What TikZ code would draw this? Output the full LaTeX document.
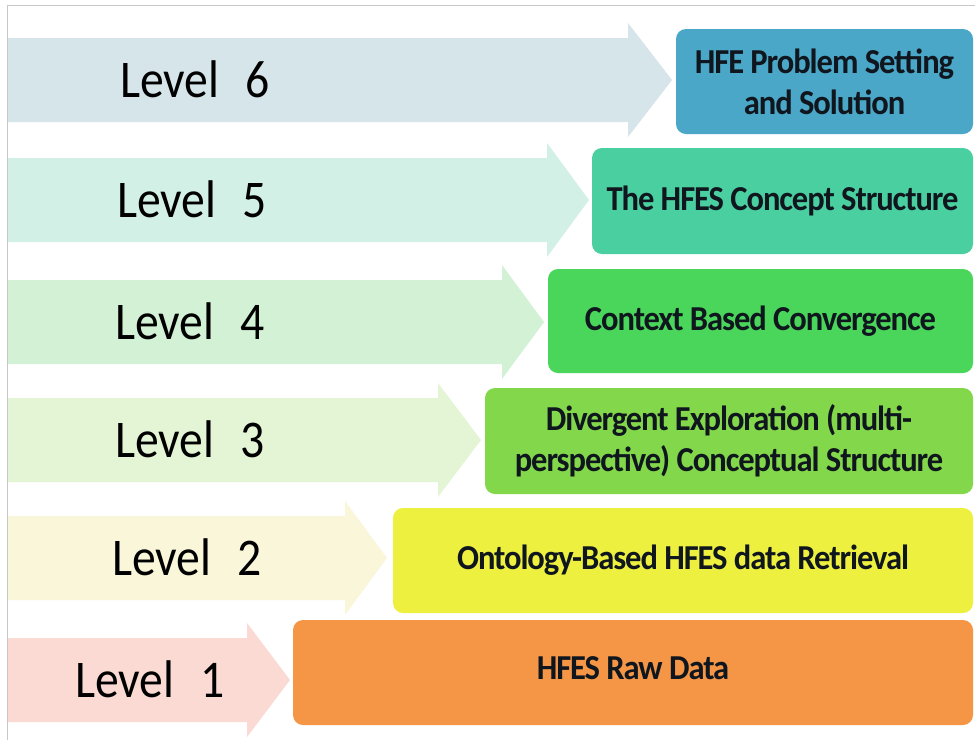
\documentclass[tikz,border=0pt]{standalone}
\usepackage{fontspec}
\setmainfont{Carlito}
\newfontfamily\levelfont[FakeStretch=0.9]{Carlito}
\newfontfamily\stagefont[FakeStretch=0.93,LetterSpace=-3]{Carlito}
\usetikzlibrary{positioning}

% pale arrow fills
\definecolor{a6}{RGB}{213,229,234}
\definecolor{a5}{RGB}{210,240,230}
\definecolor{a4}{RGB}{211,241,213}
\definecolor{a3}{RGB}{228,245,214}
\definecolor{a2}{RGB}{250,246,218}
\definecolor{a1}{RGB}{250,218,211}
% stage box fills
\definecolor{b6}{RGB}{75,167,199}
\definecolor{b5}{RGB}{74,207,160}
\definecolor{b4}{RGB}{73,214,90}
\definecolor{b3}{RGB}{130,216,74}
\definecolor{b2}{RGB}{237,240,62}
\definecolor{b1}{RGB}{245,150,71}
\definecolor{ink}{RGB}{16,22,30}
\definecolor{frame}{RGB}{200,200,200}

\tikzset{
  levellabel/.style={anchor=base west, inner sep=0pt, text=black,
    font=\levelfont\fontsize{53}{60}\selectfont},
  stagebox/.style={rounded corners=10pt, draw=none, text=ink, align=center,
    inner sep=0pt, font=\stagefont\bfseries\fontsize{35}{41}\selectfont},
}

\begin{document}
\begin{tikzpicture}[x=1pt,y=-1pt]
\useasboundingbox (0,0) rectangle (975,740);
\fill[white] (0,0) rectangle (975,740);
% thin frame on top and left
\draw[frame, line width=1pt] (7,740) -- (7,5) -- (975,5);

% level arrows with their labels
\foreach \n/\c/\hx/\tx/\lx/\fc in {6/80/628/672/120/a6, 5/200/547/589/117/a5,
    4/322/502/544/115/a4, 3/440/438/481/115/a3, 2/558/345/387/112/a2,
    1/680/247/290/75/a1}{
  \fill[\fc] (8,\c-42) -- (\hx,\c-42) -- (\hx,\c-57) -- (\tx,\c)
     -- (\hx,\c+57) -- (\hx,\c+42) -- (8,\c+42) -- cycle;
  \node[levellabel] (lvl\n) at (\lx,\c+17) {Level\hspace{0.5em}\n};
}

% stage boxes
\node[stagebox, fill=b6, minimum width=297pt, minimum height=105pt] (box6)
  at (824.5,81.5) {HFE Problem Setting\\and Solution};
\node[stagebox, fill=b5, minimum width=381pt, minimum height=106pt] (box5)
  at (782.5,201) {The HFES Concept Structure};
\node[stagebox, fill=b4, minimum width=425pt, minimum height=104pt] (box4)
  at (760.5,321) {Context Based Convergence};
\node[stagebox, fill=b3, minimum width=488pt, minimum height=106pt] (box3)
  at (729,441) {Divergent Exploration (multi-\\perspective) Conceptual Structure};
\node[stagebox, fill=b2, minimum width=580pt, minimum height=105pt] (box2)
  at (683,560.5) {Ontology-Based HFES data Retrieval};
\node[stagebox, fill=b1, minimum width=680pt, minimum height=105pt] (box1)
  at (633,672.5) {\raisebox{8pt}{HFES Raw Data}};
\end{tikzpicture}
\end{document}
